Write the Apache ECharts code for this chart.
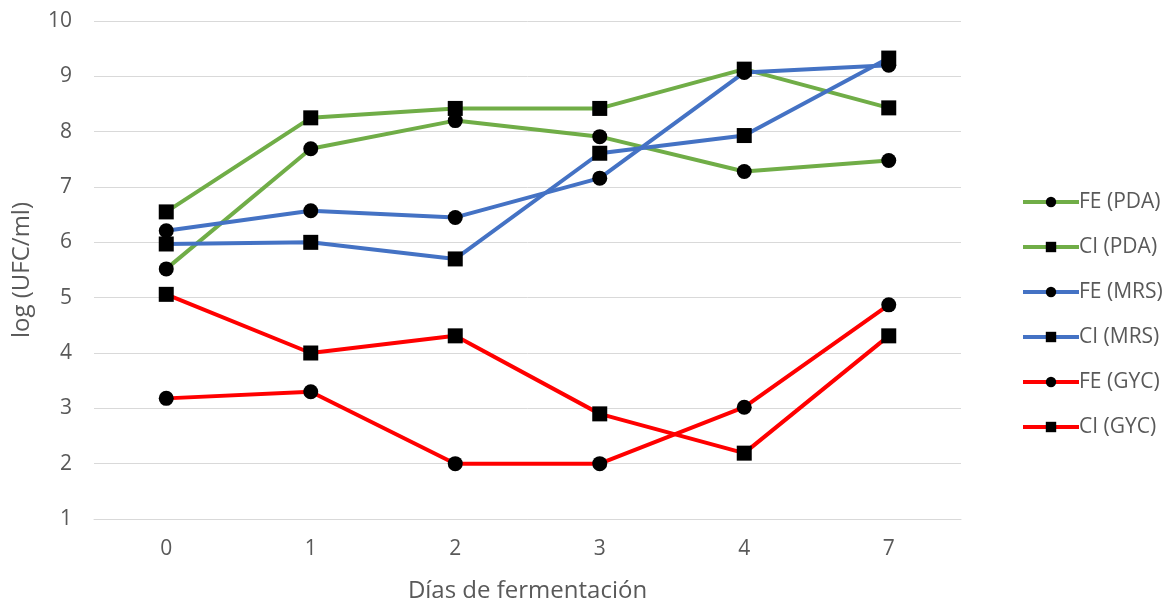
<!DOCTYPE html>
<html>
<head>
<meta charset="utf-8">
<script src="https://cdn.jsdelivr.net/npm/echarts@6/dist/echarts.min.js"></script>
<style>html,body{margin:0;padding:0;background:#fff;}#c{width:1170px;height:602px;}</style>
</head>
<body>
<div id="c"></div>
<script>
const categories = ['0', '1', '2', '3', '4', '7'];
const fePDA = [5.52, 7.69, 8.2, 7.91, 7.28, 7.48];
const ciPDA = [6.55, 8.25, 8.42, 8.42, 9.13, 8.43];
const feMRS = [6.21, 6.57, 6.45, 7.16, 9.07, 9.2];
const ciMRS = [5.97, 6.0, 5.7, 7.61, 7.93, 9.33];
const feGYC = [3.18, 3.3, 2.0, 2.0, 3.02, 4.87];
const ciGYC = [5.06, 4.0, 4.31, 2.9, 2.19, 4.31];
const yTicks = [1, 2, 3, 4, 5, 6, 7, 8, 9, 10];

const GREEN = '#70ad47', BLUE = '#4472c4', RED = '#ff0000';
const font = '"Open Sans", "Noto Sans", sans-serif';

function mk(name, data, color, symbol) {
  return {
    name, type: 'line', data,
    symbol, symbolSize: 15,
    lineStyle: { color, width: 4 },
    itemStyle: { color: '#000', borderWidth: 0 },
    emphasis: { disabled: true },
    animation: false
  };
}

const chart = echarts.init(document.getElementById('c'));
chart.setOption({
  backgroundColor: '#fff',
  textStyle: { fontFamily: font },
  grid: { left: 94, right: 209, top: 21, bottom: 83, outerBoundsMode: 'none', containLabel: false },
  legend: {
    orient: 'vertical', left: 1016, top: 186,
    itemWidth: 56, itemHeight: 13, itemGap: 23,
    lineStyle: { width: 4 },
    textStyle: { color: '#595959', fontSize: 21, lineHeight: 22, fontFamily: font, padding: [0, 0, 0, -5] },
    data: ['FE (PDA)', 'CI (PDA)', 'FE (MRS)', 'CI (MRS)', 'FE (GYC)', 'CI (GYC)']
  },
  xAxis: {
    type: 'category', data: categories, boundaryGap: true,
    name: 'Días de fermentación', nameLocation: 'middle', nameGap: 60,
    nameTextStyle: { color: '#595959', fontSize: 24, fontFamily: font },
    axisLine: { show: true, lineStyle: { color: '#d9d9d9', width: 1 } },
    axisTick: { show: false },
    axisLabel: { color: '#595959', fontSize: 21, margin: 20 }
  },
  yAxis: {
    type: 'value', min: yTicks[0], max: yTicks[yTicks.length - 1], interval: 1,
    name: 'log (UFC/ml)', nameLocation: 'middle', nameGap: 60, nameRotate: 90,
    nameTextStyle: { color: '#595959', fontSize: 24, fontFamily: font },
    axisLine: { show: false }, axisTick: { show: false },
    axisLabel: { color: '#595959', fontSize: 21, margin: 22 },
    splitLine: { lineStyle: { color: '#d9d9d9', width: 1 } }
  },
  series: [
    mk('FE (PDA)', fePDA, GREEN, 'circle'),
    mk('CI (PDA)', ciPDA, GREEN, 'rect'),
    mk('FE (MRS)', feMRS, BLUE, 'circle'),
    mk('CI (MRS)', ciMRS, BLUE, 'rect'),
    mk('FE (GYC)', feGYC, RED, 'circle'),
    mk('CI (GYC)', ciGYC, RED, 'rect')
  ]
});
</script>
</body>
</html>
